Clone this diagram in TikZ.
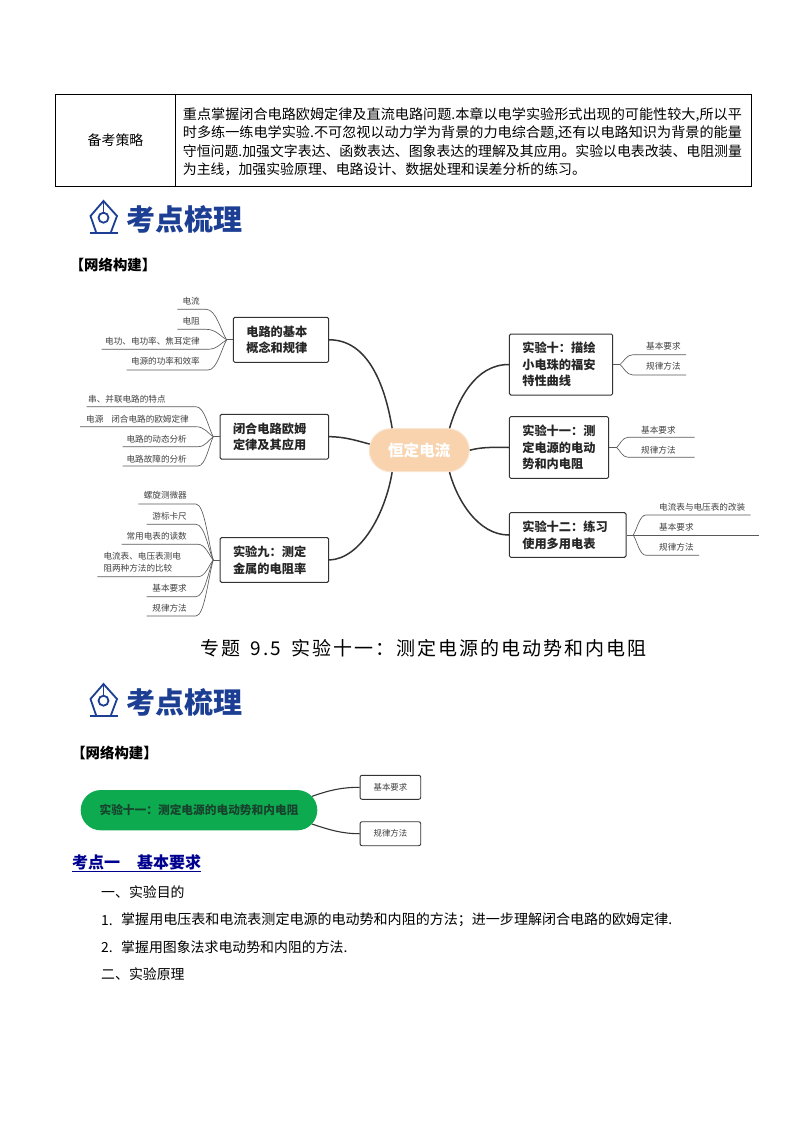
\documentclass[tikz,border=0pt]{standalone}
\usepackage{fontspec}
\usepackage{graphicx}
\setmainfont{Noto Sans CJK SC}
\usetikzlibrary{calc,shapes.misc}
\definecolor{navyhead}{HTML}{1C3F94}
\definecolor{peach}{HTML}{F8D3AE}
\definecolor{peachedge}{HTML}{FBE4CF}
\definecolor{mapgreen}{HTML}{0EAA50}
\definecolor{greentext}{HTML}{17432C}
\definecolor{inkdark}{HTML}{333333}
\definecolor{twigc}{HTML}{5A5A5A}
\definecolor{leaftext}{HTML}{404040}
\definecolor{linkblue}{HTML}{000090}
\newcommand{\fsz}[1]{\fontsize{#1}{#1}\selectfont}
\newcommand{\vstrut}{\rule[-.14em]{0pt}{1em}}
\newcommand{\fwcolon}{\char"FF1A\relax}
\newcommand{\fwcomma}{\char"FF0C\relax}
\newcommand{\fwsemi}{\char"FF1B\relax}
\tikzset{
  txt/.style={inner sep=0pt,execute at begin node=\vstrut},
  body/.style={txt,anchor=west,font=\fsz{13.9},text=black},
  cell/.style={draw=black,line width=.9pt,inner sep=0pt,font=\fsz{13.9}},
  headword/.style={txt,anchor=west,font=\fsz{29}\bfseries,text=navyhead},
  subhead/.style={txt,font=\fsz{14.4}\bfseries,text=black},
  branchbox/.style={draw=inkdark,line width=1pt,rounded corners=1.5pt,fill=white,inner xsep=13pt,inner ysep=0pt,
    align=left,font=\fontsize{12.2}{16.6}\selectfont\bfseries,text=black!85},
  link/.style={draw=inkdark,line width=1.5pt},
  twig/.style={draw=twigc,line width=.65pt},
  leafl/.style={txt,font=\fsz{8.6},text=leaftext},
  smallbox/.style={draw=inkdark,line width=.9pt,rounded corners=2pt,minimum width=60.7pt,minimum height=24pt,inner sep=0pt,font=\fsz{8.4},text=leaftext,fill=white},
}
% name, text, text anchor, text x, text y, underline y, far x, knee x, junction
\newcommand{\leafnode}[9]{%
  \node[leafl,anchor=#3] (#1) at (#4,#5) {#2};
  \coordinate (#1-s) at (#7,#6);
  \coordinate (#1-k) at (#8,#6);
  \draw[twig] (#1-s) -- (#1-k) .. controls ($(#1-k)!.5!(#9|-#1-k)$) and ($(#1-k)!.72!(#9)$) .. (#9);
}
\newcommand{\nib}[1]{%
  \begin{scope}[shift={(0,#1)},draw=navyhead,line width=1.8pt,line join=miter]
    \draw (96,232) -- (90.5,216) -- (103.5,201) -- (117,216) -- (111,232);
    \draw (90,232.8) -- (118,232.8);
    \draw (103.5,201) -- (103.5,212.5);
    \draw (103.5,217.7) circle (5);
  \end{scope}%
}
\begin{document}
\begin{tikzpicture}[x=1pt,y=-1pt]
\useasboundingbox (0,0) rectangle (794,1123);
\fill[white] (0,0) rectangle (794,1123);

% table
\node[cell,minimum width=120pt,minimum height=91.5pt] (cellA) at (115.5,140.25) {\raisebox{-.7pt}{备考策略}};
\node[cell,minimum width=575.5pt,minimum height=91.5pt] (cellB) at (463.25,140.25) {};
\node[body] (l1) at (182.7,115) {\resizebox{559pt}{\height}{重点掌握闭合电路欧姆定律及直流电路问题.本章以电学实验形式出现的可能性较大,所以平}};
\node[body] (l2) at (182.7,133.2) {\resizebox{559pt}{\height}{时多练一练电学实验.不可忽视以动力学为背景的力电综合题,还有以电路知识为背景的能量}};
\node[body] (l3) at (182.7,151.2) {\resizebox{559pt}{\height}{守恒问题.加强文字表达、函数表达、图象表达的理解及其应用。实验以电表改装、电阻测量}};
\node[body] (l4) at (182.7,169) {为主线\fwcomma 加强实验原理、电路设计、数据处理和误差分析的练习。};

% first heading
\nib{0}
\node[headword] (h1) at (126,220) {考点梳理};
\node[subhead] (s1) at (113,265) {【网络构建】};

% mind map
\node[rounded rectangle,minimum width=100pt,minimum height=43pt,fill=peach,draw=peachedge,line width=1pt,inner sep=0pt,font=\fsz{15.6}\bfseries,text=white] (core) at (419.3,450.2) {恒定电流};

\node[branchbox,minimum width=95.4pt,text width=69.4pt,minimum height=45pt] (b1) at (281,339.8) {电路的基本\\概念和规律};
\node[branchbox,minimum width=108.7pt,text width=82.7pt,minimum height=44.7pt,inner xsep=13pt] (b2) at (274.35,436.7) {闭合电路欧姆\\定律及其应用};
\node[branchbox,minimum width=108.7pt,text width=82.7pt,minimum height=44.7pt] (b3) at (274.35,560) {实验九\fwcolon 测定\\金属的电阻率};
\node[branchbox,minimum width=103.4pt,text width=77.4pt,minimum height=61pt] (b10) at (561,364.5) {实验十\fwcolon 描绘\\小电珠的福安\\特性曲线};
\node[branchbox,minimum width=99.4pt,text width=73.4pt,minimum height=61.6pt] (b11) at (559,447.5) {实验十一\fwcolon 测\\定电源的电动\\势和内电阻};
\node[branchbox,minimum width=116.7pt,text width=90.7pt,minimum height=44.6pt] (b12) at (567.65,535) {实验十二\fwcolon 练习\\使用多用电表};

\draw[link] (b1.east) .. controls (368,339.8) and (385,385) .. (core.141);
\draw[link] (b2.east) .. controls (345,436.7) and (358,441) .. (core.173);
\draw[link] (b3.east) .. controls (360,559) and (385,515) .. (core.219);
\draw[link] (b10.west) .. controls (475,364.5) and (458,400) .. (core.36);
\draw[link] (b11.west) .. controls (490,447) and (480,447.5) .. (core.0);
\draw[link] (b12.west) .. controls (478,535) and (457,500) .. (core.324);

% left twigs
\coordinate (j1) at (226.7,339.8); \draw[twig] (b1.west) -- (j1);
\leafnode{a1}{电流}{east}{200}{301}{309.3}{177.3}{206}{j1}
\leafnode{a2}{电阻}{east}{200}{321}{329.3}{177.3}{206}{j1}
\leafnode{a3}{电功、电功率、焦耳定律}{east}{200}{341}{349.3}{101.7}{208}{j1}
\leafnode{a4}{电源的功率和效率}{east}{200}{361}{370}{126.7}{208}{j1}

\coordinate (j2) at (213.3,436.7); \draw[twig] (b2.west) -- (j2);
\leafnode{c1}{串、并联电路的特点}{west}{88}{399}{406.7}{86.7}{196}{j2}
\leafnode{c2}{电源\hspace{8pt}闭合电路的欧姆定律}{west}{86}{419}{426.7}{80}{196}{j2}
\leafnode{c3}{电路的动态分析}{east}{187}{439}{446.7}{122.7}{198}{j2}
\leafnode{c4}{电路故障的分析}{east}{187}{459}{466}{122.7}{198}{j2}

\coordinate (j3) at (213.3,560); \draw[twig] (b3.west) -- (j3);
\leafnode{d1}{螺旋测微器}{east}{187}{495}{504}{138.3}{196}{j3}
\leafnode{d2}{游标卡尺}{east}{187}{516}{524.3}{146.7}{196}{j3}
\leafnode{d3}{常用电表的读数}{east}{187}{536}{544.3}{121.7}{198}{j3}
\node[inner sep=0pt,anchor=west,text=leaftext,align=left,font=\fontsize{8.6}{12.3}\selectfont] (d4) at (103.3,562) {电流表、电压表测电\\阻两种方法的比较};
\coordinate (d4-s) at (97.3,576.7); \coordinate (d4-k) at (198,576.7);
\draw[twig] (d4-s) -- (d4-k) .. controls ($(d4-k)!.5!(j3|-d4-k)$) and ($(d4-k)!.72!(j3)$) .. (j3);
\leafnode{d5}{基本要求}{east}{187}{588.3}{596.7}{146.7}{196}{j3}
\leafnode{d6}{规律方法}{east}{187}{608.3}{616}{146.7}{196}{j3}

% right twigs
\coordinate (j10) at (620,364.5); \draw[twig] (b10.east) -- (j10);
\leafnode{e1}{基本要求}{west}{646}{346.7}{354.7}{686}{633}{j10}
\leafnode{e2}{规律方法}{west}{646}{366.7}{375}{686}{633}{j10}
\coordinate (j11) at (616.7,447.5); \draw[twig] (b11.east) -- (j11);
\leafnode{f1}{基本要求}{west}{641}{430}{437.3}{694.7}{628}{j11}
\leafnode{f2}{规律方法}{west}{641}{450}{457.3}{694.7}{628}{j11}
\coordinate (j12) at (633.3,535); \draw[twig] (b12.east) -- (j12);
\leafnode{g1}{电流表与电压表的改装}{west}{659}{507.7}{515}{750.7}{646}{j12}
\node[leafl,anchor=west] (g2) at (659,527) {基本要求};
\coordinate (g2-s) at (759,535); \draw[twig] (j12) -- (g2-s);
\leafnode{g3}{规律方法}{west}{659}{547.3}{555.3}{699}{646}{j12}

% title
\node[txt,anchor=west,font=\fsz{19}\addfontfeature{LetterSpace=10.5},text=black] (title) at (200,649) {专题\hspace{10.5pt}9.5\hspace{10.5pt}实验十一\fwcolon 测定电源的电动势和内电阻};

% second heading
\nib{483}
\node[headword] (h2) at (126,703) {考点梳理};
\node[subhead] (s2) at (114.5,753) {【网络构建】};

% small map
\node[rounded rectangle,minimum width=236.6pt,minimum height=40.3pt,fill=mapgreen,inner sep=0pt,font=\fsz{11.7}\bfseries,text=greentext] (exp) at (199,810.2) {实验十一\fwcolon 测定电源的电动势和内电阻};
\node[smallbox] (r1) at (390.4,787.3) {基本要求};
\node[smallbox] (r2) at (390.4,833.7) {规律方法};
\draw[link,line width=1.1pt] (exp.7) .. controls (330,790) and (342,787.3) .. (r1.west);
\draw[link,line width=1.1pt] (exp.-7) .. controls (330,830) and (342,833.7) .. (r2.west);

% body text
\node[txt,anchor=west,font=\fsz{16}\bfseries,text=linkblue] (k1) at (72,862.5) {考点一\hspace{17pt}基本要求};
\draw[linkblue,line width=.8pt] ([yshift=-1pt]k1.south west) -- ([yshift=-1pt]k1.south east);
\node[body] (t1) at (101,892) {一、实验目的};
\node[body] (t2n) at (101,920) {1.};
\node[body] (t2) at (121,920) {\resizebox{551pt}{\height}{掌握用电压表和电流表测定电源的电动势和内阻的方法\fwsemi 进一步理解闭合电路的欧姆定律.}};
\node[body] (t3n) at (101,947) {2.};
\node[body] (t3) at (121,947) {掌握用图象法求电动势和内阻的方法.};
\node[body] (t4) at (101,974) {二、实验原理};
\end{tikzpicture}
\end{document}
